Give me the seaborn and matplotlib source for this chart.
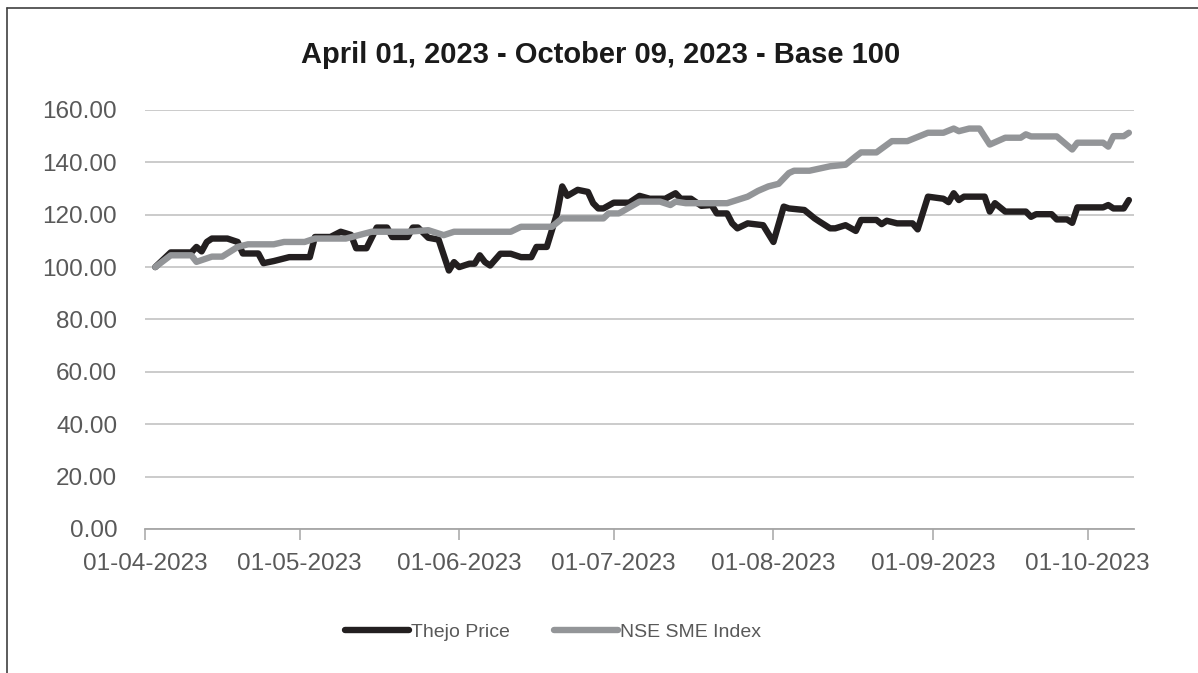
import pandas as pd
import numpy as np
import seaborn as sns
import matplotlib.pyplot as plt
import matplotlib.dates as mdates
from matplotlib.lines import Line2D

# Thejo Price (base 100)
thejo_dates = [
    "2023-04-03", "2023-04-06", "2023-04-10", "2023-04-11", "2023-04-12", "2023-04-13",
    "2023-04-14", "2023-04-17", "2023-04-19", "2023-04-20", "2023-04-23", "2023-04-24",
    "2023-04-26", "2023-04-29", "2023-05-03", "2023-05-04", "2023-05-07", "2023-05-09",
    "2023-05-11", "2023-05-12", "2023-05-14", "2023-05-16", "2023-05-18", "2023-05-19",
    "2023-05-22", "2023-05-23", "2023-05-24", "2023-05-26", "2023-05-28", "2023-05-30",
    "2023-05-31", "2023-06-01", "2023-06-03", "2023-06-04", "2023-06-05", "2023-06-06",
    "2023-06-07", "2023-06-09", "2023-06-11", "2023-06-13", "2023-06-15", "2023-06-16",
    "2023-06-18", "2023-06-19", "2023-06-20", "2023-06-21", "2023-06-22", "2023-06-24",
    "2023-06-26", "2023-06-27", "2023-06-28", "2023-06-29", "2023-07-01", "2023-07-04",
    "2023-07-06", "2023-07-08", "2023-07-11", "2023-07-13", "2023-07-14", "2023-07-16",
    "2023-07-18", "2023-07-20", "2023-07-21", "2023-07-23", "2023-07-24", "2023-07-25",
    "2023-07-27", "2023-07-30", "2023-08-01", "2023-08-03", "2023-08-04", "2023-08-07",
    "2023-08-09", "2023-08-10", "2023-08-12", "2023-08-13", "2023-08-15", "2023-08-17",
    "2023-08-18", "2023-08-21", "2023-08-22", "2023-08-23", "2023-08-25", "2023-08-28",
    "2023-08-29", "2023-08-31", "2023-09-03", "2023-09-04", "2023-09-05", "2023-09-06",
    "2023-09-07", "2023-09-11", "2023-09-12", "2023-09-13", "2023-09-15", "2023-09-19",
    "2023-09-20", "2023-09-21", "2023-09-24", "2023-09-25", "2023-09-27", "2023-09-28",
    "2023-09-29", "2023-10-04", "2023-10-05", "2023-10-06", "2023-10-08", "2023-10-09",
]
thejo_values = [
    100.0, 105.6, 105.6, 107.7, 106.0, 109.6,
    110.9, 110.9, 109.6, 105.2, 105.2, 101.5,
    102.3, 103.8, 103.8, 111.5, 111.5, 113.5,
    112.3, 107.2, 107.2, 115.1, 115.1, 111.5,
    111.5, 115.1, 115.1, 111.2, 110.5, 98.7,
    101.9, 100.0, 101.3, 101.3, 104.5, 101.9,
    100.6, 105.1, 105.1, 103.8, 103.8, 107.7,
    107.7, 114.1, 120.5, 130.8, 127.2, 129.5,
    128.7, 124.4, 122.4, 122.4, 124.6, 124.6,
    127.2, 126.1, 126.1, 128.2, 126.1, 126.1,
    123.4, 123.7, 120.5, 120.5, 116.7, 114.8,
    116.7, 116.0, 109.6, 123.1, 122.4, 121.8,
    118.6, 117.3, 114.8, 114.8, 116.0, 113.8,
    118.0, 118.0, 116.4, 117.7, 116.7, 116.7,
    114.4, 126.9, 126.1, 124.8, 128.2, 125.6,
    126.9, 126.9, 121.2, 124.4, 121.2, 121.2,
    119.2, 120.2, 120.2, 118.2, 118.2, 116.9,
    122.8, 122.8, 123.7, 122.4, 122.4, 125.6,
]

# NSE SME Index (base 100)
sme_dates = [
    "2023-04-03", "2023-04-06", "2023-04-10", "2023-04-11", "2023-04-14", "2023-04-16",
    "2023-04-19", "2023-04-21", "2023-04-26", "2023-04-28", "2023-05-02", "2023-05-04",
    "2023-05-10", "2023-05-15", "2023-05-22", "2023-05-26", "2023-05-29", "2023-05-31",
    "2023-06-11", "2023-06-13", "2023-06-19", "2023-06-21", "2023-06-29", "2023-06-30",
    "2023-07-02", "2023-07-06", "2023-07-10", "2023-07-12", "2023-07-13", "2023-07-15",
    "2023-07-23", "2023-07-27", "2023-07-29", "2023-07-31", "2023-08-02", "2023-08-04",
    "2023-08-05", "2023-08-08", "2023-08-12", "2023-08-15", "2023-08-17", "2023-08-18",
    "2023-08-21", "2023-08-24", "2023-08-27", "2023-08-31", "2023-09-03", "2023-09-05",
    "2023-09-06", "2023-09-08", "2023-09-10", "2023-09-12", "2023-09-15", "2023-09-18",
    "2023-09-19", "2023-09-20", "2023-09-25", "2023-09-28", "2023-09-29", "2023-10-04",
    "2023-10-05", "2023-10-06", "2023-10-08", "2023-10-09",
]
sme_values = [
    100.0, 104.5, 104.5, 102.0, 104.0, 104.0,
    107.7, 108.7, 108.7, 109.6, 109.6, 110.9,
    110.9, 113.5, 113.5, 114.1, 112.2, 113.5,
    113.5, 115.4, 115.4, 118.6, 118.6, 120.5,
    120.5, 125.0, 125.0, 123.7, 125.0, 124.4,
    124.4, 126.9, 129.1, 130.8, 131.8, 135.9,
    136.8, 136.8, 138.5, 139.1, 142.3, 143.8,
    143.8, 148.1, 148.1, 151.3, 151.3, 152.9,
    151.9, 152.9, 152.9, 146.8, 149.4, 149.4,
    150.7, 149.9, 149.9, 144.9, 147.5, 147.5,
    146.0, 150.0, 150.0, 151.3,
]

series_names = ["Thejo Price", "NSE SME Index"]
series_colors = ["#231F20", "#939598"]
title = "April 01, 2023 - October 09, 2023 - Base 100"

df = pd.concat([
    pd.DataFrame({"date": pd.to_datetime(thejo_dates), "value": thejo_values, "series": series_names[0]}),
    pd.DataFrame({"date": pd.to_datetime(sme_dates), "value": sme_values, "series": series_names[1]}),
])

sns.set_theme(style="white")
plt.rcParams["font.family"] = ["Liberation Sans", "DejaVu Sans"]

fig = plt.figure(figsize=(11.98, 6.73), dpi=100)
ax = fig.add_axes([0.121, 0.214, 0.8256, 0.6226])

sns.lineplot(data=df, x="date", y="value", hue="series", hue_order=series_names,
             palette=dict(zip(series_names, series_colors)), linewidth=4.6,
             solid_capstyle="round", solid_joinstyle="round", ax=ax, legend=False)

ax.set_ylim(0, 160)
ax.set_yticks(np.arange(0, 161, 20))
ax.yaxis.set_major_formatter(plt.FuncFormatter(lambda v, p: f"{v:.2f}"))
ax.set_xlim(pd.Timestamp("2023-04-01"), pd.Timestamp("2023-10-10"))
ax.xaxis.set_major_locator(mdates.MonthLocator(bymonthday=1))
ax.xaxis.set_major_formatter(mdates.DateFormatter("%d-%m-%Y"))

ax.grid(axis="y", color="#BDBDBD", linewidth=1.1)
ax.set_axisbelow(True)
for s in ["top", "right", "left"]:
    ax.spines[s].set_visible(False)
ax.spines["bottom"].set_color("#A6A6A6")
ax.spines["bottom"].set_linewidth(1.3)
ax.tick_params(axis="y", length=0, pad=20, labelsize=17.5, labelcolor="#595959")
ax.tick_params(axis="x", bottom=True, length=8, width=1.1, color="#A6A6A6", pad=9,
               labelsize=17.5, labelcolor="#595959")
ax.set_xlabel("")
ax.set_ylabel("")

fig.text(0.501, 0.919, title, ha="center", va="center", fontsize=21,
         fontweight="bold", color="#1A1A1A")

handles = [Line2D([0], [0], color=c, linewidth=4.6, solid_capstyle="round") for c in series_colors]
fig.legend(handles, series_names, loc="center", bbox_to_anchor=(553 / 1198, 0.061), ncol=2,
           frameon=False, fontsize=14, labelcolor="#595959", handlelength=3.3,
           handletextpad=0.1, columnspacing=2.3)

# outer chart border (left and top edges visible in the crop)
fig.add_artist(Line2D([7 / 1198, 7 / 1198], [0, 1 - 8 / 673], color="#404040", linewidth=1.2))
fig.add_artist(Line2D([7 / 1198, 1], [1 - 8 / 673, 1 - 8 / 673], color="#404040", linewidth=1.2))

fig.savefig("out.png", dpi=100)
